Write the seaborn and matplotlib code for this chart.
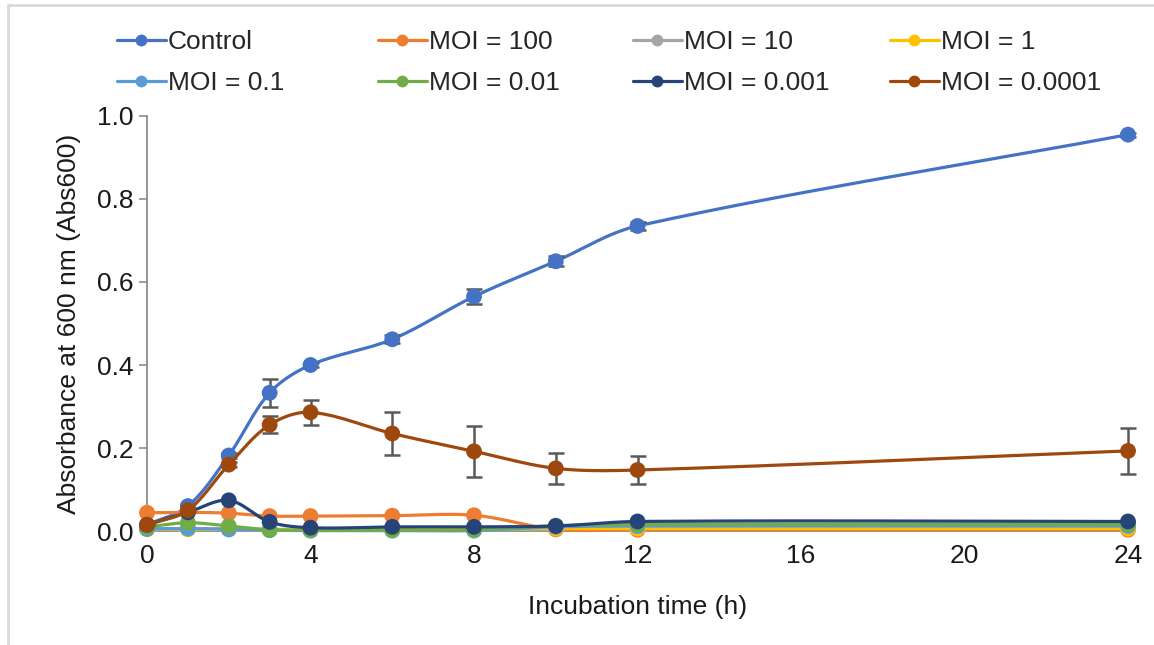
import numpy as np
import pandas as pd
import matplotlib
matplotlib.use("Agg")
import matplotlib.pyplot as plt
from matplotlib.lines import Line2D
import seaborn as sns

# ---- data ----
hours = [0, 1, 2, 3, 4, 6, 8, 10, 12, 24]
series_names = ["Control", "MOI = 100", "MOI = 10", "MOI = 1",
                "MOI = 0.1", "MOI = 0.01", "MOI = 0.001", "MOI = 0.0001"]
control = [0.015, 0.060, 0.182, 0.333, 0.400, 0.462, 0.565, 0.650, 0.735, 0.955]
moi_100 = [0.044, 0.045, 0.043, 0.036, 0.036, 0.037, 0.038, 0.004, 0.003, 0.003]
moi_10 = [0.006, 0.006, 0.005, 0.004, 0.004, 0.004, 0.004, 0.008, 0.008, 0.008]
moi_1 = [0.004, 0.004, 0.004, 0.003, 0.003, 0.003, 0.003, 0.006, 0.006, 0.006]
moi_0_1 = [0.005, 0.006, 0.004, 0.002, 0.001, 0.001, 0.001, 0.010, 0.012, 0.012]
moi_0_01 = [0.010, 0.020, 0.012, 0.003, 0.002, 0.002, 0.003, 0.013, 0.016, 0.016]
moi_0_001 = [0.015, 0.045, 0.074, 0.022, 0.008, 0.010, 0.010, 0.012, 0.023, 0.023]
moi_0_0001 = [0.015, 0.050, 0.160, 0.256, 0.286, 0.235, 0.192, 0.151, 0.147, 0.193]
control_err = [0.0, 0.004, 0.006, 0.033, 0.006, 0.010, 0.018, 0.012, 0.010, 0.005]
moi_0_0001_err = [0.0, 0.004, 0.006, 0.020, 0.030, 0.052, 0.062, 0.037, 0.033, 0.055]
x_ticks = [0, 4, 8, 12, 16, 20, 24]
y_ticks = [0.0, 0.2, 0.4, 0.6, 0.8, 1.0]

all_values = [control, moi_100, moi_10, moi_1, moi_0_1, moi_0_01, moi_0_001, moi_0_0001]
colors = ["#4472C4", "#ED7D31", "#A5A5A5", "#FFC000",
          "#5B9BD5", "#70AD47", "#264478", "#9E480E"]
errors = {0: control_err, 7: moi_0_0001_err}


def excel_smooth(xs, ys, sx, sy, n=30):
    """Bezier smoothing with chord-length-scaled tangents (computed in screen units)."""
    X = np.asarray(xs, float) * sx
    Y = np.asarray(ys, float) * sy
    P = np.column_stack([X, Y])
    P = np.vstack([P[0], P, P[-1]])
    t = np.linspace(0, 1, n)[:, None]
    pts = []
    for i in range(1, len(P) - 2):
        p0, p1, p2, p3 = P[i - 1], P[i], P[i + 1], P[i + 2]
        l01 = np.linalg.norm(p1 - p0)
        l12 = np.linalg.norm(p2 - p1)
        l23 = np.linalg.norm(p3 - p2)
        f1 = l12 / (l01 + l12) if (l01 + l12) > 0 else 0.5
        f2 = l12 / (l12 + l23) if (l12 + l23) > 0 else 0.5
        c1 = p1 + (p2 - p0) * f1 / 3
        c2 = p2 - (p3 - p1) * f2 / 3
        b = (1 - t) ** 3 * p1 + 3 * (1 - t) ** 2 * t * c1 + 3 * (1 - t) * t ** 2 * c2 + t ** 3 * p2
        pts.append(b)
    pts = np.vstack(pts)
    return pts[:, 0] / sx, pts[:, 1] / sy


sns.set_theme(style="white")
plt.rcParams["font.family"] = ["Liberation Sans", "DejaVu Sans"]

fig = plt.figure(figsize=(11.54, 6.45), dpi=100)
ax = fig.add_axes([0.1274, 0.1767, 0.8501, 0.6435])
ax.set_xlim(0, 24)
ax.set_ylim(0, 1.0)

# screen scale (pixels per data unit)
bbox = ax.get_window_extent()
px_per_x = bbox.width / 24.0
px_per_y = bbox.height / 1.0

fs = 19
lw = 2.3
for i, (name, vals, col) in enumerate(zip(series_names, all_values, colors)):
    sx, sy = excel_smooth(hours, vals, px_per_x, px_per_y)
    df = pd.DataFrame({"x": sx, "y": sy})
    sns.lineplot(data=df, x="x", y="y", ax=ax, color=col, lw=lw, sort=False,
                 estimator=None, zorder=3 + i, clip_on=False)
    if i in errors:
        ax.errorbar(hours, vals, yerr=errors[i], fmt="none", ecolor="#595959",
                    elinewidth=1.8, capsize=6, capthick=1.8, zorder=3 + i, clip_on=False)
    sns.scatterplot(x=hours, y=vals, ax=ax, color=col, s=130, edgecolor="none",
                    zorder=3.5 + i, clip_on=False, legend=False)

ax.set_xlim(0, 24)
ax.set_ylim(0, 1.0)
ax.set_xticks(x_ticks)
ax.set_xticklabels([str(v) for v in x_ticks])
ax.set_yticks(y_ticks)
ax.set_yticklabels([f"{v:.1f}" for v in y_ticks])
ax.tick_params(axis="x", length=0, pad=9, labelsize=fs, labelcolor="#1a1a1a")
ax.tick_params(axis="y", length=6, width=1.2, color="#8c8c8c", pad=4, labelsize=fs,
               labelcolor="#1a1a1a", left=True)
for s in ["top", "right"]:
    ax.spines[s].set_visible(False)
for s in ["left", "bottom"]:
    ax.spines[s].set_color("#8c8c8c")
    ax.spines[s].set_linewidth(1.3)
ax.set_xlabel("Incubation time (h)", fontsize=fs, color="#1a1a1a", labelpad=20)
ax.set_ylabel("Absorbance at 600 nm (Abs600)", fontsize=fs, color="#1a1a1a", labelpad=11)

# legend: four equal-width columns
col_x = [117, 378, 633, 890]
for c in range(4):
    idxs = [c, c + 4]
    handles = [Line2D([0], [0], color=colors[k], lw=lw, marker="o", markersize=7.5)
               for k in idxs]
    labels = [series_names[k] for k in idxs]
    fig.legend(handles, labels, loc="upper left",
               bbox_to_anchor=(col_x[c] / 1154, 1 - 30 / 645),
               frameon=False, fontsize=fs, borderpad=0, borderaxespad=0,
               handlelength=1.85, handletextpad=0.08, labelspacing=0.65)

# chart-area border (left and top edges visible)
fig.add_artist(Line2D([8 / 1154, 8 / 1154], [0, 1 - 5 / 645], transform=fig.transFigure,
                      color="#d9d9d9", lw=2))
fig.add_artist(Line2D([8 / 1154, 1], [1 - 5 / 645, 1 - 5 / 645], transform=fig.transFigure,
                      color="#d9d9d9", lw=2))

fig.savefig("out.png", dpi=100)
